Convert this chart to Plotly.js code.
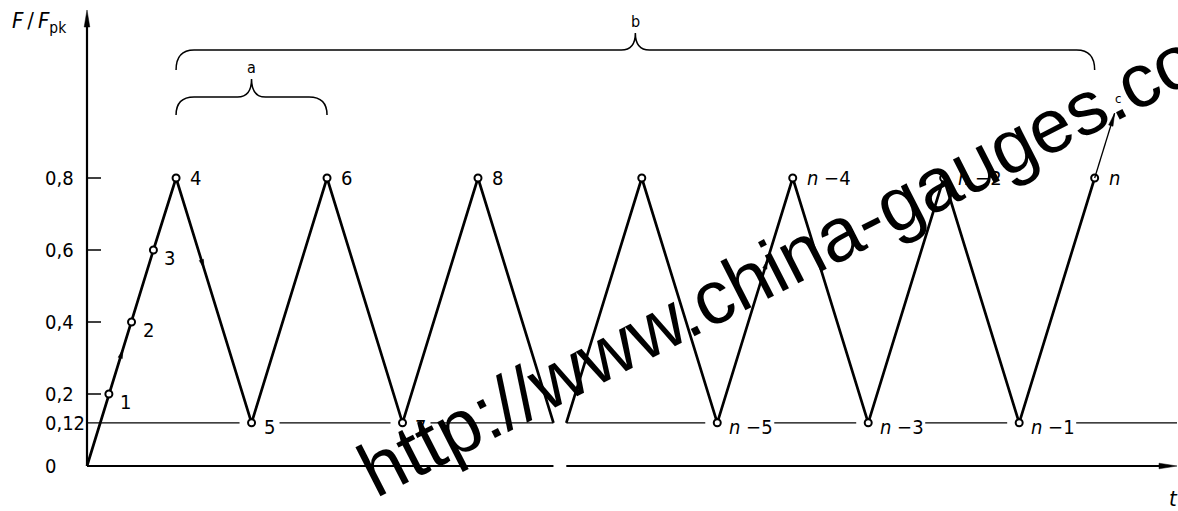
<!DOCTYPE html>
<html><head><meta charset="utf-8">
<script src="https://cdn.plot.ly/plotly-3.0.1.min.js"></script>
<style>html,body{margin:0;padding:0;background:#fff;} #chart{width:1178px;height:511px;}</style>
</head><body><div id="chart"></div>
<script>
// ---- data ----
const tFirst = [0, 0.29, 0.59, 0.88, 1.18, 2.18, 3.18, 4.18, 5.18, 6.18];
const fFirst = [0, 0.2, 0.4, 0.6, 0.8, 0.12, 0.8, 0.12, 0.8, 0.12];
const labelsFirst = ['', '1', '2', '3', '4', '5', '6', '7', '8', ''];
const markFirst = [0, 1, 1, 1, 1, 1, 1, 1, 1, 0];
const tSecond = [6.35, 7.35, 8.35, 9.35, 10.35, 11.35, 12.35, 13.35];
const fSecond = [0.12, 0.8, 0.12, 0.8, 0.12, 0.8, 0.12, 0.8];
const labelsSecond = ['', '', 'n −5', 'n −4', 'n −3', 'n −2', 'n −1', 'n'];
const markSecond = [0, 1, 1, 1, 1, 1, 1, 1];
const yTickVals = [0, 0.12, 0.2, 0.4, 0.6, 0.8];
const yTickText = ['0', '0,12', '0,2', '0,4', '0,6', '0,8'];
const lowerLevel = 0.12;
const cEndF = 0.98;
const braceTexts = ['a', 'b', 'c'];
const yTitle = '<i>F</i>\u2009/\u2009<i>F</i><sub>pk</sub>';
const xTitle = '<i>t</i>';
const watermark = 'http://www.china-gauges.co';

// ---- geometry ----
const W = 1178, H = 511, mL = 40, mR = 0, mT = 0, mB = 30;
const plotW = W - mL - mR, plotH = H - mT - mB;
const ox = 87, oy = 466, ppx = 75.48, ppy = 360;
const X = px => (px - ox) / ppx;
const Y = py => (oy - py) / ppy;
const PX = t => ox + t * ppx;
const PY = f => oy - f * ppy;
const XP = px => (px - mL) / plotW;           // pixel -> paper x
const YP = py => (H - mB - py) / plotH;       // pixel -> paper y
const FONT = "'DejaVu Sans Condensed', 'Liberation Sans Narrow', 'DejaVu Sans', sans-serif";

const shapes = [];
const annotations = [];

function lineShape(x0, y0, x1, y1, w, layer) {
  shapes.push({type: 'line', xref: 'x', yref: 'y', x0, y0, x1, y1,
    line: {color: '#000', width: w}, layer: layer || 'above'});
}
function tri(tipx, tipy, dx, dy, len, hw) {
  const n = Math.hypot(dx, dy); dx /= n; dy /= n;
  const bx = tipx - dx * len, by = tipy - dy * len;
  const px = -dy, py = dx;
  const p = [[tipx, tipy], [bx + px * hw, by + py * hw], [bx - px * hw, by - py * hw]];
  const d = 'M' + p.map(q => X(q[0]).toFixed(4) + ',' + Y(q[1]).toFixed(4)).join(' L') + ' Z';
  shapes.push({type: 'path', xref: 'x', yref: 'y', path: d, fillcolor: '#000',
    line: {color: '#000', width: 0.5}, layer: 'above'});
}
function midArrow(ts, fs, i, frac, len, hw) {
  const x0 = PX(ts[i]), y0 = PY(fs[i]), x1 = PX(ts[i + 1]), y1 = PY(fs[i + 1]);
  tri(x0 + (x1 - x0) * frac, y0 + (y1 - y0) * frac, x1 - x0, y1 - y0, len, hw);
}

// axes
const xEndPx = 1177, yTopPx = 10;
lineShape(0, 0, 0, Y(yTopPx + 10), 2.2);
tri(ox, yTopPx, 0, -1, 17, 2.8);
lineShape(0, 0, tFirst[tFirst.length - 1], 0, 2.2);
lineShape(tSecond[0], 0, X(xEndPx - 10), 0, 2.2);
tri(xEndPx, oy, 1, 0, 18, 2.8);

// y ticks (short inner marks), except 0 and the 0.12 line
yTickVals.forEach((v, k) => {
  if (v !== 0 && v !== lowerLevel) lineShape(0, v, X(ox + 14), v, 1.5);
  annotations.push({xref: 'paper', yref: 'y', x: XP(43), y: v, text: yTickText[k], showarrow: false,
    xanchor: 'left', yanchor: 'middle', font: {family: FONT, size: 20, color: '#000'}});
});

// lower level line with gaps around valley labels and the break
const gaps = [];
function collectGaps(ts, fs, labs) {
  ts.forEach((t, i) => {
    if (labs[i] && fs[i] === lowerLevel) {
      const p = PX(t);
      gaps.push([p - 12, p + (labs[i].length > 1 ? 57 : 28)]);
    }
  });
}
collectGaps(tFirst, fFirst, labelsFirst);
collectGaps(tSecond, fSecond, labelsSecond);
gaps.push([PX(tFirst[tFirst.length - 1]), PX(tSecond[0])]);
gaps.sort((a, b) => a[0] - b[0]);
let cur = ox;
gaps.forEach(g => { lineShape(X(cur), lowerLevel, X(g[0]), lowerLevel, 1.3, 'below'); cur = g[1]; });
lineShape(X(cur), lowerLevel, X(xEndPx), lowerLevel, 1.3, 'below');

// point labels
function addLabels(ts, fs, labs) {
  ts.forEach((t, i) => {
    if (!labs[i]) return;
    let xs = 12, ys = 0;
    if (fs[i] === lowerLevel) { xs = 10; ys = -4; }
    else if (i > 0 && fs[i] < 0.8 && fs[i] > fs[i - 1]) { xs = 9; ys = -8; }
    annotations.push({xref: 'x', yref: 'y', x: t, y: fs[i], xshift: xs, yshift: ys,
      text: labs[i].replace(/^n/, '<i>n</i>'), showarrow: false, xanchor: 'left', yanchor: 'middle',
      font: {family: FONT, size: 20, color: '#000'}});
  });
}
addLabels(tFirst, fFirst, labelsFirst);
addLabels(tSecond, fSecond, labelsSecond);

// direction arrows on the load path
midArrow(tFirst, fFirst, 1, 0.62, 9, 2.2);
midArrow(tFirst, fFirst, 4, 0.37, 9, 2.2);
midArrow(tSecond, fSecond, 2, 0.665, 9, 2.2);

// continuation arrow "c"
const nI = tSecond.length - 1;
const slope = (fSecond[nI] - fSecond[nI - 1]) / (tSecond[nI] - tSecond[nI - 1]);
const tC = tSecond[nI] + (cEndF - fSecond[nI]) / slope;
lineShape(tSecond[nI], fSecond[nI], tC, cEndF, 1.3);
tri(PX(tC), PY(cEndF), PX(tC) - PX(tSecond[nI]), PY(cEndF) - PY(fSecond[nI]), 13, 2.3);

// braces
function brace(t0, t1, yEnd, yH, yC, label) {
  const x0 = PX(t0), x1 = PX(t1), xm = (x0 + x1) / 2, r = 18, rc = 14;
  const pts = [
    ['M', x0, yEnd], ['Q', x0, yH, x0 + r, yH], ['L', xm - rc, yH], ['Q', xm, yH, xm, yC],
    ['Q', xm, yH, xm + rc, yH], ['L', x1 - r, yH], ['Q', x1, yH, x1, yEnd]];
  const d = pts.map(p => {
    let s = p[0];
    for (let k = 1; k < p.length; k += 2) s += (k > 1 ? ' ' : '') + X(p[k]).toFixed(4) + ',' + Y(p[k + 1]).toFixed(4);
    return s;
  }).join(' ');
  shapes.push({type: 'path', xref: 'x', yref: 'y', path: d, line: {color: '#000', width: 1.5}, layer: 'above'});
  annotations.push({xref: 'x', yref: 'y', x: X(xm), y: Y(yC - 12), text: label, showarrow: false,
    xanchor: 'center', yanchor: 'middle', font: {family: FONT, size: 16, color: '#000'}});
}
brace(tFirst[4], tFirst[6], 115, 97, 79, braceTexts[0]);
brace(tFirst[4], tSecond[nI], 70, 50, 33, braceTexts[1]);

// axis titles (paper refs so they can sit outside the plotting range)
annotations.push({xref: 'paper', yref: 'paper', x: XP(10), y: YP(22), text: yTitle, showarrow: false,
  xanchor: 'left', yanchor: 'middle', font: {family: FONT, size: 22, color: '#000'}});
annotations.push({xref: 'paper', yref: 'paper', x: XP(1173), y: YP(499), text: xTitle, showarrow: false,
  xanchor: 'center', yanchor: 'middle', font: {family: FONT, size: 22, color: '#000'}});

// watermark
annotations.push({xref: 'paper', yref: 'paper', x: XP(777), y: YP(264), text: watermark, showarrow: false,
  textangle: -27, xanchor: 'center', yanchor: 'middle',
  font: {family: "'Liberation Sans', Arial, sans-serif", size: 76, color: '#000'}});

// label "c" drawn after the watermark so it stays visible
annotations.push({xref: 'x', yref: 'y', x: tC, y: cEndF, xshift: 3, yshift: 15, text: braceTexts[2],
  showarrow: false, xanchor: 'center', yanchor: 'middle', font: {family: FONT, size: 13, color: '#000'}});

const traceStyle = {
  mode: 'lines+markers', type: 'scatter', hoverinfo: 'skip', showlegend: false, cliponaxis: false,
  line: {color: '#000', width: 2.7},
};
const data = [
  Object.assign({}, traceStyle, {x: tFirst, y: fFirst,
    marker: {symbol: 'circle', size: 7, color: '#fff', opacity: markFirst, line: {color: '#000', width: 2}}}),
  Object.assign({}, traceStyle, {x: tSecond, y: fSecond,
    marker: {symbol: 'circle', size: 7, color: '#fff', opacity: markSecond, line: {color: '#000', width: 2}}})
];

const layout = {
  width: W, height: H,
  margin: {l: mL, r: mR, t: mT, b: mB, pad: 0},
  paper_bgcolor: '#fff', plot_bgcolor: '#fff',
  xaxis: {range: [X(mL), X(W - mR)], visible: false, fixedrange: true},
  yaxis: {range: [Y(H - mB), Y(mT)], visible: false, fixedrange: true},
  shapes, annotations, showlegend: false
};
Plotly.newPlot('chart', data, layout, {displayModeBar: false, staticPlot: true});
</script>
</body></html>
